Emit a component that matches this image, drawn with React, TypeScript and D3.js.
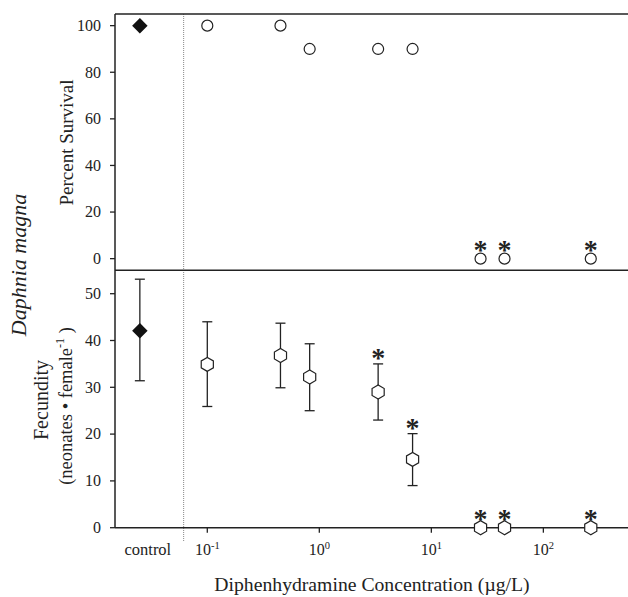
import React from 'react';
import * as d3 from 'd3';

// treatment concentrations (ug/L)
const concentrations = [0.1, 0.45, 0.82, 3.35, 6.8, 27.5, 45, 265];
const survival = [100, 100, 90, 90, 90, 0, 0, 0];
const survivalSig = [false, false, false, false, false, true, true, true];
const fecundity = [34.9, 36.8, 32.2, 29.0, 14.6, 0, 0, 0];
const fecundityLo = [25.9, 29.9, 25.0, 23.0, 9.0, null, null, null];
const fecundityHi = [44.0, 43.7, 39.3, 35.0, 20.1, null, null, null];
const fecunditySig = [false, false, false, true, true, true, true, true];

const controlSurvival = 100;
const controlFecundity = 42.1;
const controlFecundityLo = 31.4;
const controlFecundityHi = 53.1;

const survivalTicks = [0, 20, 40, 60, 80, 100];
const fecundityTicks = [0, 10, 20, 30, 40, 50];
const xTickExponents = [-1, 0, 1, 2];

// control sits left of the break, placed on the same log scale
const CONTROL_CONC = 0.025;
const BREAK_CONC = 0.0615;

const W = 628;
const H = 597;
const left = 115;
const right = 627;
const top = 14;
const mid = 270.3;
const bottom = 527.7;

const FONT = '"Liberation Serif", "Times New Roman", serif';
const INK = '#222';

const App = () => {
    const x = d3.scaleLog().domain([0.015, 558]).range([left, right]);
    const yTop = d3.scaleLinear().domain([-5, 105]).range([mid, top]);
    const yBot = d3.scaleLinear().domain([0, 55]).range([bottom, mid]);

    const diamond = d3.symbol().type(d3.symbolSquare).size(120)();
    const hexPts = d3.range(6).map(i => {
        const a = Math.PI / 2 + i * Math.PI / 3;
        return [7 * Math.cos(a), 7 * Math.sin(a)] as [number, number];
    });
    const hexagon = d3.line()(hexPts) + 'Z';

    const star = (cx: number, cy: number, key: string) => (
        <text key={key} x={cx} y={cy + 14} textAnchor="middle" fontSize={28} fontWeight="bold"
              fontFamily={FONT} fill={INK}>*</text>
    );

    const errorBar = (cx: number, lo: number, hi: number, key: string) => (
        <g key={key} stroke={INK} strokeWidth={1.3}>
            <line x1={cx} x2={cx} y1={yBot(lo)} y2={yBot(hi)} />
            <line x1={cx - 5} x2={cx + 5} y1={yBot(lo)} y2={yBot(lo)} />
            <line x1={cx - 5} x2={cx + 5} y1={yBot(hi)} y2={yBot(hi)} />
        </g>
    );

    const cx0 = x(CONTROL_CONC);
    const xBreak = x(BREAK_CONC);

    return (
        <svg width={W} height={H} style={{display: 'block', position: 'absolute', left: 0, top: 0}}
             fontFamily={FONT}>
            <rect width={W} height={H} fill="#fff" />

            {/* break between control and treatments */}
            <line x1={xBreak} x2={xBreak} y1={top} y2={bottom + 14}
                  stroke="#888" strokeWidth={1} strokeDasharray="1,1" />

            {/* frame lines */}
            <g stroke={INK} strokeWidth={1.5} fill="none">
                <line x1={left} x2={right + 1} y1={top} y2={top} />
                <line x1={left} x2={right + 1} y1={mid} y2={mid} />
                <line x1={left} x2={right + 1} y1={bottom} y2={bottom} />
                <line x1={left} x2={left} y1={top} y2={bottom} />
            </g>

            {/* y axes */}
            {survivalTicks.map(t => (
                <g key={'st' + t} transform={`translate(${left},${yTop(t)})`}>
                    <line x1={-5} x2={0} stroke={INK} strokeWidth={1.3} />
                    <text x={-14} dy="0.33em" textAnchor="end" fontSize={16} fill={INK}>{t}</text>
                </g>
            ))}
            {fecundityTicks.map(t => (
                <g key={'ft' + t} transform={`translate(${left},${yBot(t)})`}>
                    <line x1={-5} x2={0} stroke={INK} strokeWidth={1.3} />
                    <text x={-14} dy="0.33em" textAnchor="end" fontSize={16} fill={INK}>{t}</text>
                </g>
            ))}

            {/* x axis */}
            {xTickExponents.map(e => (
                <g key={'xt' + e} transform={`translate(${x(Math.pow(10, e))},${bottom})`}>
                    <line y1={0} y2={5} stroke={INK} strokeWidth={1.3} />
                    <text y={27} textAnchor="middle" fontSize={16} fill={INK}>
                        10<tspan fontSize={10.5} dy={-6}>{e}</tspan>
                    </text>
                </g>
            ))}
            <text x={cx0 + 8} y={bottom + 27} textAnchor="middle" fontSize={16.5} fill={INK}>control</text>

            {/* axis titles */}
            <text x={372} y={591} textAnchor="middle" fontSize={19.7} fill={INK}>
                Diphenhydramine Concentration (µg/L)
            </text>
            <text transform={`translate(73,142.5) rotate(-90)`} textAnchor="middle" fontSize={19} fill={INK}>
                Percent Survival
            </text>
            <text transform={`translate(48,400) rotate(-90)`} textAnchor="middle" fontSize={20} fill={INK}>
                Fecundity
            </text>
            <text transform={`translate(72,406) rotate(-90)`} textAnchor="middle" fontSize={18.5} fill={INK}>
                (neonates • female<tspan fontSize={12} dy={-8}>-1</tspan><tspan dy={8}> )</tspan>
            </text>
            <text transform={`translate(26,265) rotate(-90)`} textAnchor="middle" fontSize={22}
                  fontStyle="italic" fill={INK}>
                Daphnia magna
            </text>

            {/* survival panel */}
            <path d={diamond} transform={`translate(${cx0},${yTop(controlSurvival)}) rotate(45)`} fill="#111" />
            {concentrations.map((c, i) => (
                <circle key={'s' + i} cx={x(c)} cy={yTop(survival[i])} r={5.5}
                        fill="#fff" stroke={INK} strokeWidth={1.2} />
            ))}
            {concentrations.map((c, i) => survivalSig[i] ? star(x(c), yTop(survival[i]) - 14, 'ss' + i) : null)}

            {/* fecundity panel */}
            {errorBar(cx0, controlFecundityLo, controlFecundityHi, 'ce')}
            <path d={diamond} transform={`translate(${cx0},${yBot(controlFecundity)}) rotate(45)`} fill="#111" />
            {concentrations.map((c, i) => fecundityLo[i] != null
                ? errorBar(x(c), fecundityLo[i] as number, fecundityHi[i] as number, 'e' + i) : null)}
            {concentrations.map((c, i) => (
                <path key={'f' + i} d={hexagon} transform={`translate(${x(c)},${yBot(fecundity[i])})`}
                      fill="#fff" stroke={INK} strokeWidth={1.2} />
            ))}
            {concentrations.map((c, i) => {
                if (!fecunditySig[i]) return null;
                const yy = fecundityHi[i] != null ? yBot(fecundityHi[i] as number) - 11 : yBot(fecundity[i]) - 14;
                return star(x(c), yy, 'fs' + i);
            })}
        </svg>
    );
};

export default App;
